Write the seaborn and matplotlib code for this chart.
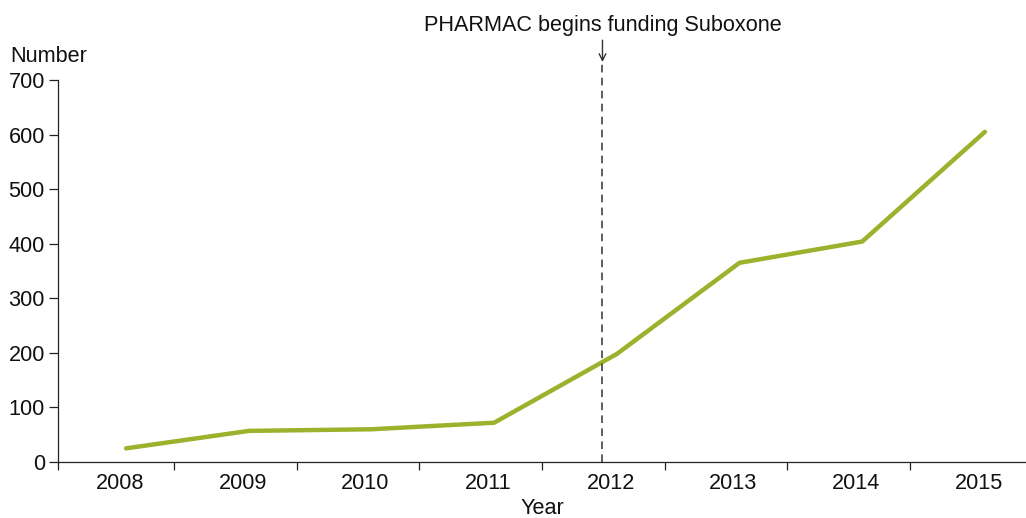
import matplotlib
matplotlib.use("Agg")
import matplotlib.pyplot as plt
import seaborn as sns
import pandas as pd

years = ["2008", "2009", "2010", "2011", "2012", "2013", "2014", "2015"]
counts = [25, 57, 60, 72, 198, 365, 404, 605]
y_ticks = [0, 100, 200, 300, 400, 500, 600, 700]
event_year = "2012"
event_label = "PHARMAC begins funding Suboxone"

FS = 15.6

sns.set_theme(style="white")
plt.rcParams["font.family"] = ["Liberation Sans", "DejaVu Sans"]

df = pd.DataFrame({"Year": years, "Number": counts})

fig = plt.figure(figsize=(10.26, 5.18), dpi=100)
ax = fig.add_axes([58 / 1026, 56 / 518, 968 / 1026, 382 / 518])

sns.lineplot(data=df, x="Year", y="Number", ax=ax, color="#9CB12C",
             linewidth=3.2, solid_capstyle="round", solid_joinstyle="miter")

left, right = -0.555, 7.335
ax.set_xlim(left, right)
ax.set_ylim(0, 700)

# y axis: plain spine with outward ticks
ax.set_yticks(y_ticks)
ax.set_yticklabels([str(v) for v in y_ticks])
ax.tick_params(axis="y", direction="out", length=6.5, width=0.9, color="#222222",
               labelsize=FS, pad=3, left=True)

# x axis: labels centred in each year band, tick marks on the boundaries
idx = list(range(len(years)))
ax.set_xticks([i - 0.05 for i in idx])
ax.set_xticklabels(years)
ax.tick_params(axis="x", which="major", length=0, labelsize=FS, pad=8)
ax.set_xticks([left] + [i + 0.39 for i in range(len(years) - 1)], minor=True)
ax.tick_params(axis="x", which="minor", direction="out", length=6, width=0.9,
               color="#222222", bottom=True)

for s in ["top", "right"]:
    ax.spines[s].set_visible(False)
for s in ["left", "bottom"]:
    ax.spines[s].set_color("#222222")
    ax.spines[s].set_linewidth(0.9)

ax.set_xlabel("Year", fontsize=FS, labelpad=3, color="#111111")
ax.set_ylabel("")
fig.text(10 / 1026, 1 - 62 / 518, "Number", fontsize=FS, ha="left",
         va="baseline", color="#111111")

# event marker
ex = years.index(event_year) - 0.117
ax.plot([ex, ex], [0, 733], color="#333333", linewidth=1.1,
        linestyle=(0, (5, 3.5)), clip_on=False)
ax.text(ex, 790, event_label, ha="center", va="baseline", fontsize=FS,
        color="#111111", clip_on=False)
ax.annotate("", xy=(ex, 733), xytext=(ex, 773), annotation_clip=False,
            arrowprops=dict(arrowstyle="->", color="#333333", lw=1.0,
                            shrinkA=0, shrinkB=0))

for lab in ax.get_xticklabels() + ax.get_yticklabels():
    lab.set_color("#111111")

fig.savefig("out.png", dpi=100)
